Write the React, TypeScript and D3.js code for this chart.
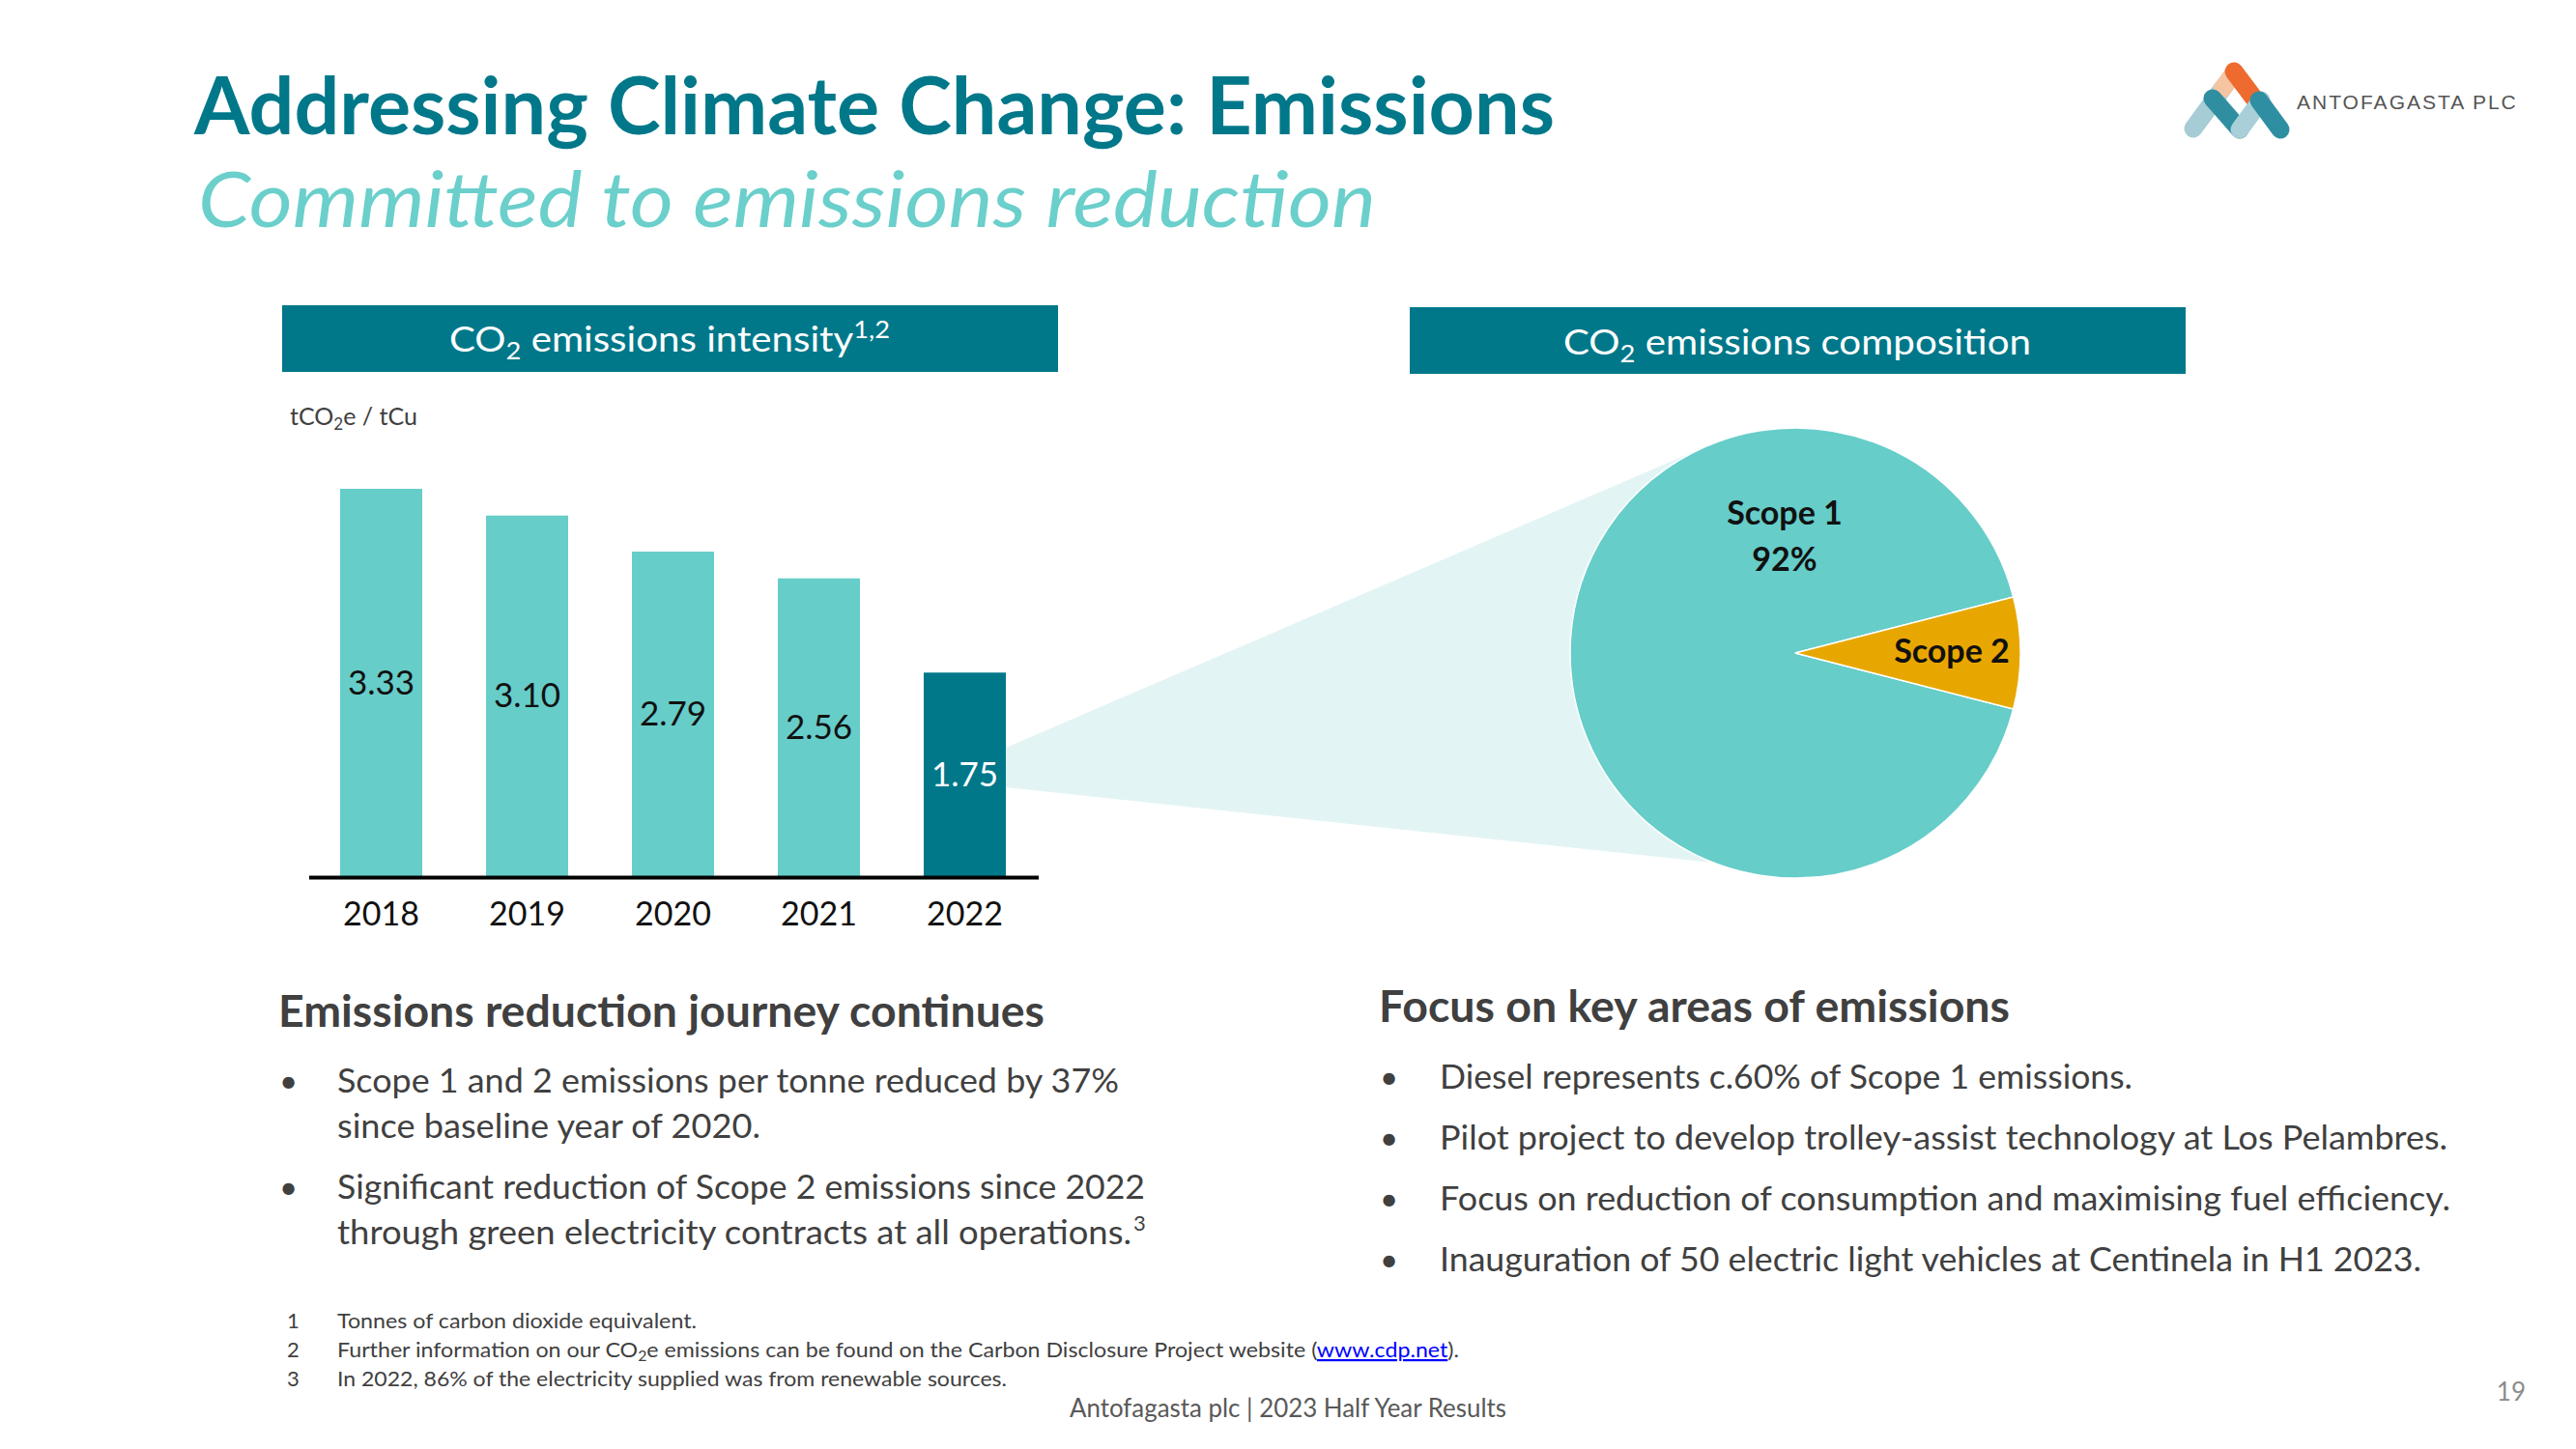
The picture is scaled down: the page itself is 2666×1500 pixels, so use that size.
import React from 'react';
import * as d3 from 'd3';

// ---------- data ----------
const years = ['2018', '2019', '2020', '2021', '2022'];
const intensity = [3.33, 3.1, 2.79, 2.56, 1.75];
const highlightYear = '2022';
const scopeLabels = ['Scope 1', 'Scope 2'];
const scopeShares = [92, 8];

const leftBullets = [
  ['Scope 1 and 2 emissions per tonne reduced by 37%', 'since baseline year of 2020.'],
  ['Significant reduction of Scope 2 emissions since 2022', 'through green electricity contracts at all operations.'],
];
const rightBullets = [
  'Diesel represents c.60% of Scope 1 emissions.',
  'Pilot project to develop trolley-assist technology at Los Pelambres.',
  'Focus on reduction of consumption and maximising fuel efficiency.',
  'Inauguration of 50 electric light vehicles at Centinela in H1 2023.',
];

// ---------- layout (text widths measured on the reference) ----------
const leftBulletWidths = [[809, 438], [836, 822]];
const rightBulletWidths = [717, 1043, 1046, 1016];

// ---------- style ----------
const FONT = "Lato, 'Open Sans', 'Noto Sans', sans-serif";
const TEAL_DARK = '#00788A';
const TEAL_LIGHT = '#66CDC9';
const GOLD = '#E8A700';
const CONE = '#E3F4F4';
const TEXT_DARK = '#404040';
const ADJ = 'spacingAndGlyphs';

export default function App() {
  const W = 2666, H = 1500;

  const x = d3.scaleBand<string>().domain(years).range([319, 1074]).paddingInner(0.437).paddingOuter(0.2185);
  const y = d3.scaleLinear().domain([0, 3.33]).range([907, 506]);

  // pie
  const cx = 1858, cy = 676, r = 233;
  const total = d3.sum(scopeShares);
  const s2 = scopeShares[1] / total;
  const start = Math.PI / 2 + s2 * Math.PI;
  const pie = d3.pie<number>().sort(null).startAngle(start).endAngle(start + 2 * Math.PI);
  const arcs = pie(scopeShares);
  const arcGen = d3.arc<d3.PieArcDatum<number>>().innerRadius(0).outerRadius(r);

  // cone from highlighted bar to pie
  const hx = (x(highlightYear) as number) + x.bandwidth();
  const p1 = [hx, 774];
  const p2 = [hx, 815];
  const dx = cx - p1[0], dy = cy - p1[1];
  const dist = Math.hypot(dx, dy);
  const ang = Math.atan2(dy, dx) - Math.asin(r / dist);
  const L = Math.sqrt(dist * dist - r * r);
  const t1 = [p1[0] + L * Math.cos(ang), p1[1] + L * Math.sin(ang)];
  const t2 = [1800, 896];
  const conePath = `M${p1[0]},${p1[1]}L${t1[0]},${t1[1]}L${cx},${cy}L${t2[0]},${t2[1]}L${p2[0]},${p2[1]}Z`;

  return (
    <svg width={W} height={H} style={{ position: 'absolute', left: 0, top: 0, background: '#fff' }} fontFamily={FONT}>
      <rect width={W} height={H} fill="#fff" />
      {/* Title */}
      <text x={201} y={139} fontSize={82} fontWeight={700} fill={TEAL_DARK} textLength={1408} lengthAdjust={ADJ}>Addressing Climate Change: Emissions</text>
      <text x={205} y={235} fontSize={80} fontStyle="italic" fill="#6BCFCB" textLength={1219} lengthAdjust={ADJ}>Committed to emissions reduction</text>

      {/* Logo */}
      <g strokeLinecap="round" fill="none" strokeWidth={19}>
        <line x1={2270} y1={133} x2={2300} y2={92} stroke="#A6CCD6" />
        <line x1={2300} y1={92} x2={2312} y2={76} stroke="#F5C4A2" />
        <line x1={2312} y1={74} x2={2336} y2={106} stroke="#EE6A2E" />
        <line x1={2290} y1={102} x2={2318} y2={134} stroke="#2F8EA0" />
        <line x1={2318} y1={134} x2={2340} y2={104} stroke="#A9D0D8" />
        <line x1={2338} y1={104} x2={2360} y2={134} stroke="#2E8FA2" />
      </g>
      <text x={2377} y={113} fontSize={21} fill="#555" letterSpacing={2} fontFamily="'Liberation Sans', Arial, sans-serif">ANTOFAGASTA PLC</text>

      {/* Section headers */}
      <rect x={292} y={316} width={803} height={69} fill={TEAL_DARK} />
      <text x={465} y={364} fontSize={37} fill="#fff" textLength={456} lengthAdjust={ADJ}>
        CO<tspan fontSize={25} dy={8}>2</tspan><tspan dy={-8}> emissions intensity</tspan><tspan fontSize={25} dy={-14}>1,2</tspan>
      </text>
      <rect x={1459} y={318} width={803} height={69} fill={TEAL_DARK} />
      <text x={1618} y={367} fontSize={37} fill="#fff" textLength={484} lengthAdjust={ADJ}>
        CO<tspan fontSize={25} dy={8}>2</tspan><tspan dy={-8}> emissions composition</tspan>
      </text>

      {/* unit */}
      <text x={300} y={440} fontSize={25} fill={TEXT_DARK}>
        tCO<tspan fontSize={17} dy={5}>2</tspan><tspan dy={-5}>e / tCu</tspan>
      </text>

      {/* cone */}
      <path d={conePath} fill={CONE} />

      {/* bars */}
      {years.map((yr, i) => {
        const v = intensity[i];
        const bx = x(yr) as number;
        const top = y(v);
        const hl = yr === highlightYear;
        return (
          <g key={yr}>
            <rect x={bx} y={top} width={x.bandwidth()} height={y(0) - top} fill={hl ? TEAL_DARK : TEAL_LIGHT} />
            <text x={bx + x.bandwidth() / 2} y={(top + y(0)) / 2 + 12} fontSize={35} textAnchor="middle" fill={hl ? '#fff' : '#111'}>
              {v.toFixed(2)}
            </text>
            <text x={bx + x.bandwidth() / 2} y={958} fontSize={34} textAnchor="middle" fill="#111">{yr}</text>
          </g>
        );
      })}
      <line x1={320} x2={1075} y1={908.5} y2={908.5} stroke="#000" strokeWidth={4} />

      {/* pie */}
      <g transform={`translate(${cx},${cy})`}>
        {arcs.map((a, i) => (
          <path key={i} d={arcGen(a) as string} fill={i === 0 ? TEAL_LIGHT : GOLD} stroke="#fff" strokeWidth={1.5} />
        ))}
      </g>
      <text x={cx - 11} y={543} fontSize={34} fontWeight={700} textAnchor="middle" fill="#111">{scopeLabels[0]}</text>
      <text x={cx - 11} y={591} fontSize={34} fontWeight={700} textAnchor="middle" fill="#111">{scopeShares[0]}%</text>
      <text x={2020} y={686} fontSize={34} fontWeight={700} textAnchor="middle" fill="#111">{scopeLabels[1]}</text>

      {/* left text */}
      <text x={288} y={1063} fontSize={46} fontWeight={700} fill={TEXT_DARK} textLength={793} lengthAdjust={ADJ}>Emissions reduction journey continues</text>
      {leftBullets.map((lines, bi) => (
        <g key={bi}>
          <text x={289} y={[1131, 1241][bi]} fontSize={33} fill={TEXT_DARK}>•</text>
          {lines.map((ln, li) => (
            <text key={li} x={349} y={[1131, 1241][bi] + li * 47} fontSize={34} fill={TEXT_DARK}
              textLength={leftBulletWidths[bi][li]} lengthAdjust={ADJ}>
              {ln}
            </text>
          ))}
        </g>
      ))}
      <text x={1173} y={1274} fontSize={22} fill={TEXT_DARK}>3</text>

      {/* right text */}
      <text x={1427} y={1058} fontSize={46} fontWeight={700} fill={TEXT_DARK} textLength={653} lengthAdjust={ADJ}>Focus on key areas of emissions</text>
      {rightBullets.map((ln, i) => (
        <g key={i}>
          <text x={1428} y={1127 + i * 63} fontSize={33} fill={TEXT_DARK}>•</text>
          <text x={1490} y={1127 + i * 63} fontSize={34} fill={TEXT_DARK} textLength={rightBulletWidths[i]} lengthAdjust={ADJ}>{ln}</text>
        </g>
      ))}

      {/* footnotes */}
      <g fontSize={22} fill={TEXT_DARK}>
        <text x={297} y={1375}>1</text>
        <text x={349} y={1375} textLength={372} lengthAdjust={ADJ}>Tonnes of carbon dioxide equivalent.</text>
        <text x={297} y={1405}>2</text>
        <text x={349} y={1405} textLength={1161} lengthAdjust={ADJ}>
          Further information on our CO<tspan fontSize={15} dy={4}>2</tspan><tspan dy={-4}>e emissions can be found on the Carbon Disclosure Project website (</tspan>
          <tspan fill="#0000FF" textDecoration="underline">www.cdp.net</tspan>
          <tspan>).</tspan>
        </text>
        <text x={297} y={1435}>3</text>
        <text x={349} y={1435} textLength={693} lengthAdjust={ADJ}>In 2022, 86% of the electricity supplied was from renewable sources.</text>
      </g>
      <text x={1107} y={1467} fontSize={26} fill="#595959" textLength={452} lengthAdjust={ADJ}>Antofagasta plc | 2023 Half Year Results</text>
      <text x={2614} y={1450} fontSize={26} fill="#8C8C8C" textAnchor="end">19</text>
    </svg>
  );
}
